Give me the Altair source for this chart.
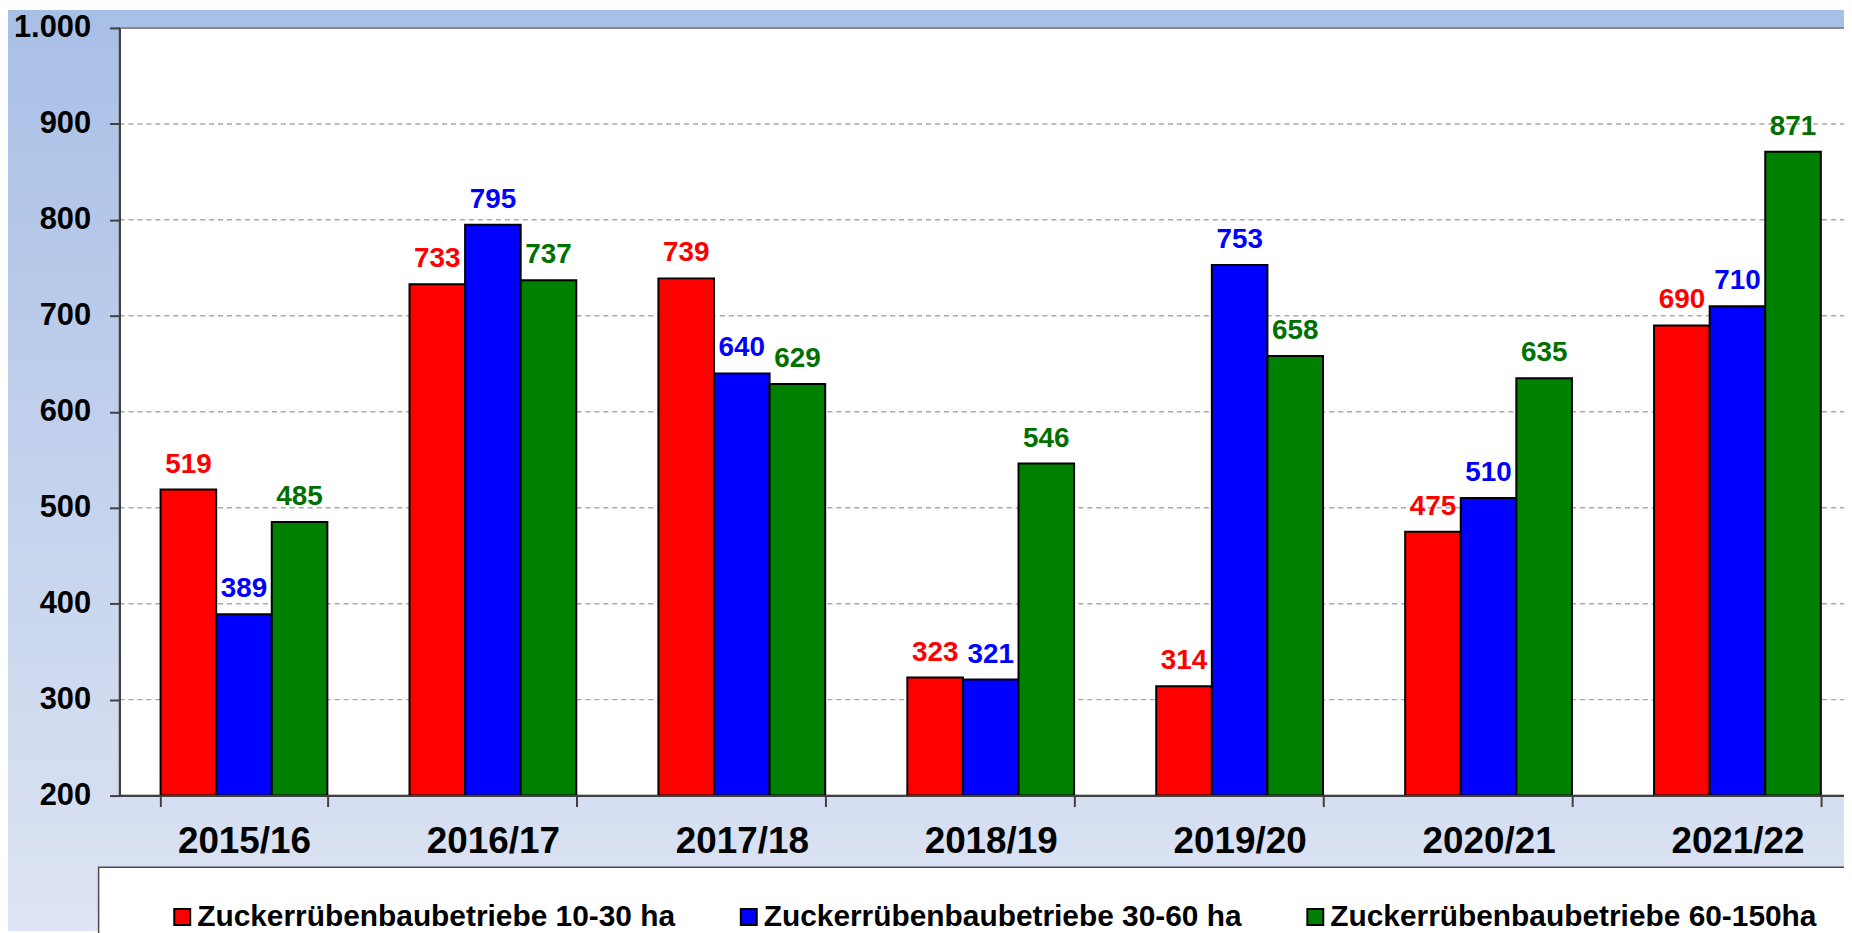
import altair as alt
import pandas as pd

# ---- data ----
seasons = ["2015/16", "2016/17", "2017/18", "2018/19", "2019/20", "2020/21", "2021/22"]
series = [
    "Zuckerrübenbaubetriebe 10-30 ha",
    "Zuckerrübenbaubetriebe 30-60 ha",
    "Zuckerrübenbaubetriebe 60-150ha",
]
values_10_30 = [519, 733, 739, 323, 314, 475, 690]
values_30_60 = [389, 795, 640, 321, 753, 510, 710]
values_60_150 = [485, 737, 629, 546, 658, 635, 871]
y_ticks = [200, 300, 400, 500, 600, 700, 800, 900, 1000]
grid_values = y_ticks[1:-1]

bar_colors = ["#ff0000", "#0000ff", "#008000"]
label_colors = ["#ff0000", "#0000ff", "#007000"]

rows = []
for name, vals in zip(series, [values_10_30, values_30_60, values_60_150]):
    for s, v in zip(seasons, vals):
        rows.append({"Saison": s, "Reihe": name, "Wert": v})
df = pd.DataFrame(rows)
grid_df = pd.DataFrame({"Wert": grid_values})
one = pd.DataFrame({"a": [1]})

FONT = "Liberation Sans"
W, H = 1732, 771
XR = 1750

x_enc = alt.X(
    "Saison:N",
    sort=seasons,
    scale=alt.Scale(range=[0, XR], paddingInner=0.33, paddingOuter=0.165),
    axis=alt.Axis(
        title=None, tickBand="extent", labelAngle=0, grid=False, zindex=2,
        labelFont=FONT, labelFontSize=37, labelFontWeight="bold", labelColor="black",
        tickSize=11, tickWidth=2, tickColor="#404040",
        domainColor="#404040", domainWidth=2, labelPadding=17,
    ),
)
y_axis = alt.Axis(
    title=None, values=y_ticks, grid=False, zindex=2,
    labelExpr="replace(format(datum.value, ','), ',', '.')",
    labelFont=FONT, labelFontSize=31, labelFontWeight="bold", labelColor="black",
    tickSize=10, tickWidth=2, tickColor="#404040",
    domainColor="#404040", domainWidth=2, labelPadding=19,
)
y_scale = alt.Scale(domain=[200, 1000], nice=False, zero=False)
y_enc = alt.Y("Wert:Q", scale=y_scale, axis=y_axis)
xoff = alt.XOffset("Reihe:N", sort=series, scale=alt.Scale(paddingInner=0, paddingOuter=0))

bg = alt.Chart(one).mark_rect(
    fill=alt.LinearGradient(
        gradient="linear", x1=0, y1=0, x2=0, y2=1,
        stops=[alt.GradientStop(color="#a8bfe6", offset=0),
               alt.GradientStop(color="#dde4f3", offset=1)],
    )
).encode(x=alt.value(-112), x2=alt.value(W), y=alt.value(-18), y2=alt.value(907))

plot_bg = alt.Chart(one).mark_rect(fill="white", stroke="#8a8a8a", strokeWidth=2).encode(
    x=alt.value(0), x2=alt.value(XR), y=alt.value(0), y2=alt.value(H)
)

grid = alt.Chart(grid_df).mark_rule(strokeDash=[5, 4], color="#a8a8a8", strokeWidth=1.5).encode(
    y=y_enc, x=alt.value(0), x2=alt.value(XR)
)

bars = alt.Chart(df).mark_bar(stroke="black", strokeWidth=2).encode(
    x=x_enc,
    xOffset=xoff,
    y=y_enc,
    y2=alt.datum(200),
    color=alt.Color(
        "Reihe:N", sort=series,
        scale=alt.Scale(domain=series, range=bar_colors),
        legend=alt.Legend(
            title=None, orient="none", legendX=48, legendY=878, direction="horizontal",
            symbolType="square", symbolSize=256, symbolStrokeColor="black", symbolStrokeWidth=2,
            symbolOpacity=1, zindex=3,
            labelFont=FONT, labelFontSize=30, labelFontWeight="bold", labelColor="black",
            labelLimit=1000, labelOffset=0, columnPadding=58, padding=0,
        ),
    ),
)

labels = alt.Chart(df).mark_text(
    baseline="alphabetic", dy=-17, font=FONT, fontSize=28, fontWeight="bold"
).encode(
    x=x_enc,
    xOffset=xoff,
    y=y_enc,
    text="Wert:Q",
    color=alt.Color("Reihe:N", sort=series,
                    scale=alt.Scale(domain=series, range=label_colors), legend=None),
)

legend_box = alt.Chart(one).mark_rect(fill="white", stroke="#4a4a4a", strokeWidth=1.5).encode(
    x=alt.value(-21), x2=alt.value(1800), y=alt.value(843), y2=alt.value(990)
)

chart = (
    alt.layer(bg, plot_bg, grid, legend_box, bars, labels)
    .resolve_scale(color="independent")
    .properties(
        width=W, height=H,
        autosize=alt.AutoSizeParams(type="none"),
        padding={"left": 112, "top": 18, "right": 0, "bottom": 136},
    )
    .configure_view(strokeWidth=0)
)

chart.save("out.html", embed_options={"renderer": "svg", "actions": False})
